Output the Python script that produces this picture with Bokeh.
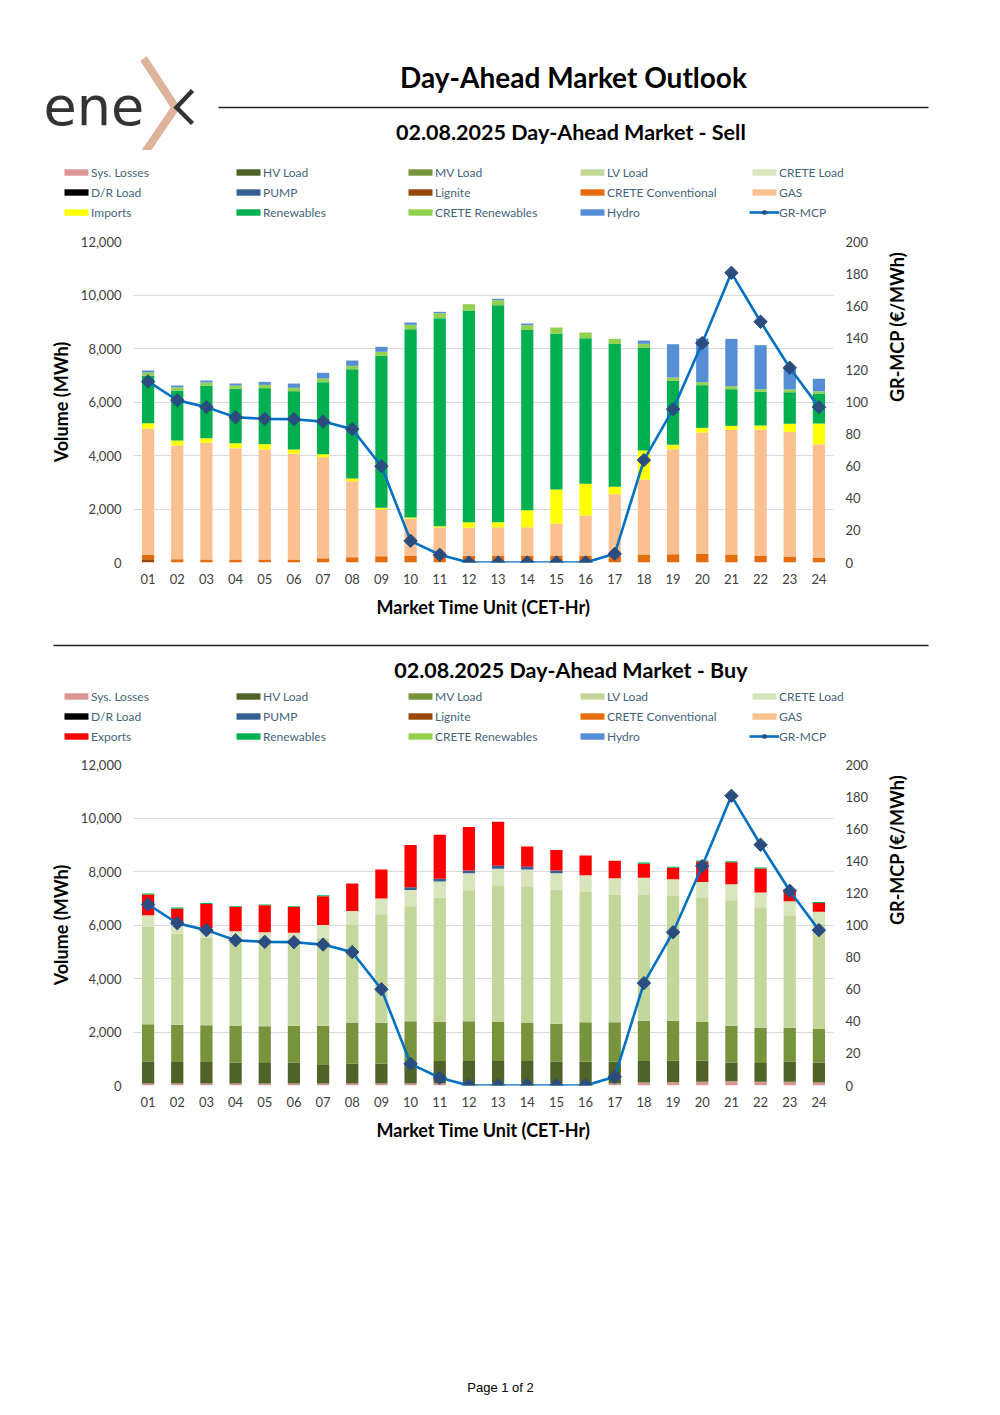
import math
from bokeh.plotting import figure
from bokeh.models import (ColumnDataSource, FactorRange, Range1d, LinearAxis, Legend,
                          LegendItem, NumeralTickFormatter, SingleIntervalTicker)
from bokeh.layouts import column, row
from bokeh.embed import file_html
from bokeh.resources import INLINE
from bokeh.core.properties import value

# ---------------- data ----------------
HOURS = [f"{h:02d}" for h in range(1, 25)]
DATE_LABEL = "02.08.2025"

GR_MCP = [112.8, 101.1, 96.8, 90.5, 89.5, 89.3, 87.8, 83.1, 60.0, 13.5, 4.8, 0.0,
          0.0, 0.0, 0.0, 0.0, 5.4, 63.8, 95.5, 136.7, 180.5, 150.0, 121.3, 96.8]

# Sell side (MWh)
SELL_LIGNITE = [125] + [0] * 23
SELL_CRETE_CONV = [162, 125, 112, 112, 112, 112, 162, 199, 237, 249, 249, 249,
                   262, 262, 262, 262, 262, 299, 312, 324, 299, 262, 224, 174]
SELL_GAS = [4722, 4248, 4361, 4162, 4112, 3962, 3775, 2841, 1744, 1383, 1059, 1047,
            1059, 1059, 1196, 1495, 2292, 2804, 3924, 4535, 4660, 4709, 4660, 4249]
SELL_IMPORTS = [199, 187, 175, 187, 199, 150, 113, 100, 62, 50, 50, 212,
                187, 635, 1271, 1184, 274, 1084, 162, 175, 150, 150, 299, 773]
SELL_RENEWABLES = [1770, 1870, 1956, 2031, 2094, 2180, 2691, 4087, 5682, 7040, 7775, 7912,
                   8111, 6741, 5831, 5445, 5346, 3850, 2393, 1595, 1370, 1259, 1184, 1121]
SELL_CRETE_REN = [124, 124, 124, 124, 124, 125, 137, 124, 150, 162, 187, 237,
                  187, 174, 224, 211, 187, 137, 124, 112, 112, 99, 100, 87]
SELL_HYDRO = [75, 62, 75, 75, 112, 162, 212, 200, 187, 87, 50, 0,
              50, 63, 0, 0, 0, 124, 1246, 1632, 1770, 1645, 810, 461]

# Buy side (MWh)
BUY_SYS_LOSSES = [75] * 17 + [112, 125, 137, 162, 137, 137, 112]
BUY_HV = [812, 800, 800, 775, 762, 775, 687, 750, 750, 750, 837, 837,
          837, 837, 812, 812, 812, 800, 800, 788, 688, 700, 750, 750]
BUY_MV = [1400, 1400, 1375, 1375, 1375, 1387, 1475, 1512, 1525, 1575, 1475, 1488,
          1463, 1425, 1425, 1475, 1475, 1513, 1500, 1450, 1387, 1325, 1275, 1250]
BUY_LV = [3638, 3400, 3275, 3125, 3113, 3088, 3288, 3663, 4050, 4300, 4638, 4900,
          5112, 5113, 5013, 4875, 4775, 4700, 4662, 4637, 4688, 4500, 4200, 3938]
BUY_CRETE = [437, 425, 362, 412, 400, 387, 475, 525, 587, 612, 600, 637,
             613, 625, 612, 625, 613, 637, 625, 600, 600, 550, 525, 450]
BUY_PUMP = [0] * 9 + [100, 100, 100, 112, 100, 100] + [0] * 9
BUY_EXPORTS = [775, 512, 900, 913, 1012, 963, 1075, 1025, 1088, 1575, 1650, 1625,
               1650, 762, 763, 738, 650, 525, 425, 763, 825, 900, 450, 325]
BUY_RENEWABLES = [38, 38, 38, 25, 25, 25, 37, 0, 0, 0, 0, 0,
                  0, 0, 0, 0, 0, 50, 38, 37, 37, 38, 0, 37]
ZERO = [0] * 24

# ---------------- styles ----------------
COLORS = {
    "Sys. Losses": "#DA9694", "HV Load": "#4F6228", "MV Load": "#77933C",
    "LV Load": "#C4D79B", "CRETE Load": "#D8E4BC", "D/R Load": "#000000",
    "PUMP": "#366092", "Lignite": "#974806", "CRETE Conventional": "#E46C0A",
    "GAS": "#FAC090", "Imports": "#FFFF00", "Exports": "#FF0000",
    "Renewables": "#00B050", "CRETE Renewables": "#92D050", "Hydro": "#558ED5",
}
LINE_COLOR = "#0070C0"
MARKER_COLOR = "#2B4C7E"
FONT = "Lato"
TXT = "#404040"
LEG_TXT = "#44657A"
W = 991
ML, FW, MR = 133, 700, 158   # chart left border, frame width, right border
BAR_W = 0.42
NAN = float("nan")  # legend-only sample glyphs draw nothing on the canvas


def blank(h):
    p = figure(width=W, height=h, x_range=Range1d(0, W), y_range=Range1d(h, 0),
               x_axis_location=None, y_axis_location=None, min_border=0,
               output_backend="svg", toolbar_location=None)
    p.grid.visible = False
    p.outline_line_color = None
    return p


def legend_fig(trade_label, h, vy):
    """Legend strip drawn with the same glyph styles as the chart."""
    p = blank(h)
    order = ["Sys. Losses", "HV Load", "MV Load", "LV Load", "CRETE Load",
             "D/R Load", "PUMP", "Lignite", "CRETE Conventional", "GAS",
             trade_label, "Renewables", "CRETE Renewables", "Hydro"]
    items = []
    for lab in order:
        r = p.vbar(x=[NAN], top=[NAN], bottom=[NAN], width=1, color=COLORS[lab],
                   line_color=None)
        items.append(LegendItem(label=lab, renderers=[r]))
    ln = p.line(x=[NAN, NAN], y=[NAN, NAN], line_color=LINE_COLOR, line_width=2.6)
    mk = p.scatter(x=[NAN], y=[NAN], marker="square", angle=math.pi / 4, size=9.5,
                   fill_color=MARKER_COLOR, line_color=MARKER_COLOR)
    items.append(LegendItem(label="GR-MCP", renderers=[ln, mk]))
    leg = Legend(items=items, ncols=5, orientation="horizontal",
                 location=(61, vy), glyph_width=30, glyph_height=8,
                 label_width=142, label_height=20, label_standoff=0,
                 spacing=0, padding=0, margin=0, border_line_color=None,
                 background_fill_alpha=0, label_text_font=FONT,
                 label_text_font_size="12px", label_text_color=LEG_TXT)
    p.add_layout(leg, "center")
    return p


def chart(series, top_border):
    data = {"hour": HOURS, "mcp": GR_MCP}
    keys = []
    for i, (lab, vals) in enumerate(series):
        k = f"s{i}"
        data[k] = vals
        keys.append(k)
    src = ColumnDataSource(data)
    p = figure(x_range=FactorRange(*HOURS), y_range=Range1d(0, 12000),
               width=ML + FW + MR, height=top_border + 321 + 70,
               min_border_left=ML, min_border_right=MR,
               min_border_top=top_border, min_border_bottom=70,
               output_backend="svg", toolbar_location=None)
    p.outline_line_color = None
    p.extra_y_ranges = {"mcp": Range1d(0, 200)}

    p.vbar_stack(keys, x="hour", width=BAR_W, source=src,
                 color=[COLORS[lab] for lab, _ in series], line_color=None)
    p.line("hour", "mcp", source=src, y_range_name="mcp",
           line_color=LINE_COLOR, line_width=2.6)
    p.scatter("hour", "mcp", source=src, y_range_name="mcp", marker="square",
              angle=math.pi / 4, size=9.5, fill_color=MARKER_COLOR,
              line_color=MARKER_COLOR)

    p.xgrid.visible = False
    p.ygrid.grid_line_color = "#D9D9D9"
    p.ygrid.grid_line_width = 1.2
    p.yaxis.ticker = SingleIntervalTicker(interval=2000)
    p.yaxis.formatter = NumeralTickFormatter(format="0,0")
    p.yaxis.axis_label = "Volume (MWh)"
    p.xaxis.axis_label = "Market Time Unit (CET-Hr)"
    right = LinearAxis(y_range_name="mcp", ticker=SingleIntervalTicker(interval=20),
                       axis_label="GR-MCP (€/MWh)")
    p.add_layout(right, "right")
    for ax in [p.xaxis[0], p.yaxis[0], right]:
        ax.axis_line_color = None
        ax.major_tick_line_color = None
        ax.minor_tick_line_color = None
        ax.major_tick_out = 0
        ax.major_tick_in = 0
        ax.minor_tick_out = 0
        ax.major_label_text_font = FONT
        ax.major_label_text_font_size = "13px"
        ax.major_label_text_color = TXT
        ax.axis_label_text_font = FONT
        ax.axis_label_text_font_style = "bold"
        ax.axis_label_text_font_size = "18px"
        ax.axis_label_text_color = "#000000"
    p.xaxis.major_label_standoff = 11
    p.xaxis.axis_label_standoff = 9
    p.yaxis[0].major_label_standoff = 12
    p.yaxis[0].axis_label_standoff = 6
    right.major_label_standoff = 12
    right.axis_label_standoff = 26
    right.axis_label_orientation = math.pi / 2
    return p


# ---------------- header ----------------
head = blank(150)
head.text(x=[573], y=[76], text=["Day-Ahead Market Outlook"], text_font=value(FONT),
          text_font_style="bold", text_font_size="28px", text_align="center",
          text_baseline="middle", text_color="#000000")
head.line(x=[218, 928], y=[107, 107], line_color="#222222", line_width=1.3)
head.text(x=[573], y=[131], text=[f"{DATE_LABEL}  Day-Ahead Market - Sell"],
          text_font=value(FONT), text_font_style="bold", text_font_size="21.5px",
          text_align="center", text_baseline="middle", text_color="#000000")
# logo: chevron strokes first, word on top
head.line(x=[143, 175, 143], y=[58, 107, 154], line_color="#DDB49B", line_width=8,
          line_join="miter")
head.line(x=[192, 176, 192], y=[90, 107, 123], line_color="#333333", line_width=4.5,
          line_join="miter")
head.text(x=[43], y=[106], text=["ene"], text_font=value("DejaVu Sans"),
          text_font_size="54px", text_align="left", text_baseline="middle",
          text_color="#333333")

sell_series = [("Lignite", SELL_LIGNITE), ("CRETE Conventional", SELL_CRETE_CONV),
               ("GAS", SELL_GAS), ("Imports", SELL_IMPORTS),
               ("Renewables", SELL_RENEWABLES), ("CRETE Renewables", SELL_CRETE_REN),
               ("Hydro", SELL_HYDRO)]
sell_leg = legend_fig("Imports", 82, 10)
sell = chart(sell_series, 9)

sep = blank(52)
sep.line(x=[53, 928], y=[13, 13], line_color="#222222", line_width=1.3)
sep.text(x=[573], y=[37], text=[f"{DATE_LABEL}  Day-Ahead Market - Buy"],
         text_font=value(FONT), text_font_style="bold", text_font_size="21.5px",
         text_align="center", text_baseline="middle", text_color="#000000")

buy_series = [("Sys. Losses", BUY_SYS_LOSSES), ("HV Load", BUY_HV), ("MV Load", BUY_MV),
              ("LV Load", BUY_LV), ("CRETE Load", BUY_CRETE), ("D/R Load", ZERO),
              ("PUMP", BUY_PUMP), ("Exports", BUY_EXPORTS),
              ("Renewables", BUY_RENEWABLES)]
buy_leg = legend_fig("Exports", 72, 10)
buy = chart(buy_series, 8)

foot = blank(245)
foot.text(x=[500], y=[232], text=["Page 1 of 2"], text_font=value("Liberation Sans"),
          text_font_size="13px", text_align="center", text_baseline="middle",
          text_color="#000000")

page = column(row(head), row(sell_leg), sell, row(sep), row(buy_leg), buy, row(foot),
              spacing=0)
open("out.html", "w").write(file_html(page, INLINE))
